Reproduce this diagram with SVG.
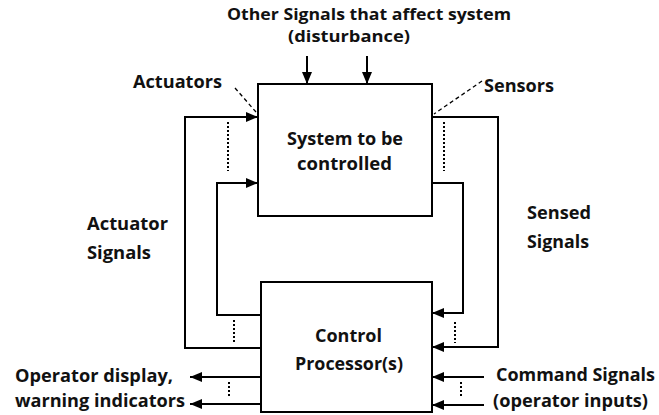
<svg xmlns="http://www.w3.org/2000/svg" width="659" height="415" viewBox="0 0 659 415">
<style>
text{font-family:"Open Sans","Liberation Sans",sans-serif;font-weight:bold;font-size:18px;fill:#111}
.top{font-size:15.5px}
.box{fill:#fff;stroke:#000;stroke-width:2}
.ln{fill:none;stroke:#000;stroke-width:2}
.arr{marker-end:url(#ah)}
.dot{fill:none;stroke:#000;stroke-width:2;stroke-dasharray:2,2}
.dash{fill:none;stroke:#000;stroke-width:1.3;stroke-dasharray:4,3}
</style>
<defs>
<marker id="ah" markerUnits="userSpaceOnUse" markerWidth="12" markerHeight="10" refX="12" refY="5" orient="auto">
<path d="M0,0 L12,5 L0,10 z" fill="#000"/>
</marker>
</defs>
<rect width="659" height="415" fill="#fff"/>
<g id="system">
<rect class="box" x="258" y="84" width="174" height="132"/>
<text x="287" y="145" textLength="116" lengthAdjust="spacingAndGlyphs">System to be</text>
<text x="297" y="170" textLength="95" lengthAdjust="spacingAndGlyphs">controlled</text>
</g>
<g id="controller">
<rect class="box" x="261" y="282" width="171" height="130"/>
<text x="315" y="342" textLength="67" lengthAdjust="spacingAndGlyphs">Control</text>
<text x="295" y="370" textLength="108" lengthAdjust="spacingAndGlyphs">Processor(s)</text>
</g>
<g id="labels">
<text class="top" x="227" y="20" textLength="284" lengthAdjust="spacingAndGlyphs">Other Signals that affect system</text>
<text class="top" x="288" y="42" textLength="122" lengthAdjust="spacingAndGlyphs">(disturbance)</text>
<text x="133" y="88" textLength="89" lengthAdjust="spacingAndGlyphs">Actuators</text>
<text x="484" y="92" textLength="70" lengthAdjust="spacingAndGlyphs">Sensors</text>
<text x="87" y="230" textLength="81" lengthAdjust="spacingAndGlyphs">Actuator</text>
<text x="87" y="259" textLength="64" lengthAdjust="spacingAndGlyphs">Signals</text>
<text x="527" y="219" textLength="64" lengthAdjust="spacingAndGlyphs">Sensed</text>
<text x="527" y="248" textLength="62" lengthAdjust="spacingAndGlyphs">Signals</text>
<text x="15" y="382" textLength="158" lengthAdjust="spacingAndGlyphs">Operator display,</text>
<text x="15" y="407" textLength="170" lengthAdjust="spacingAndGlyphs">warning indicators</text>
<text x="496" y="381" textLength="159" lengthAdjust="spacingAndGlyphs">Command Signals</text>
<text x="493" y="407" textLength="155" lengthAdjust="spacingAndGlyphs">(operator inputs)</text>
</g>
<g id="connectors">
<path class="ln arr" d="M307,56 V84"/>
<path class="ln arr" d="M367,56 V84"/>
<path class="ln arr" d="M261,348 H185 V117 H258"/>
<path class="ln arr" d="M261,315 H217 V183 H258"/>
<path class="ln arr" d="M432,117 H498 V347 H432"/>
<path class="ln arr" d="M432,183 H463 V313 H432"/>
<path class="ln arr" d="M261,377 H190"/>
<path class="ln arr" d="M261,404 H190"/>
<path class="ln arr" d="M484,377 H432"/>
<path class="ln arr" d="M484,405 H432"/>
<path class="dot" d="M228,122 V171"/>
<path class="dot" d="M444,122 V171"/>
<path class="dot" d="M234,320 V343"/>
<path class="dot" d="M455,322 V343"/>
<path class="dot" d="M229,382 V398"/>
<path class="dot" d="M461,382 V398"/>
<path class="dash" d="M235,88 L256,112"/>
<path class="dash" d="M482,81 L434,114"/>
</g>
</svg>
